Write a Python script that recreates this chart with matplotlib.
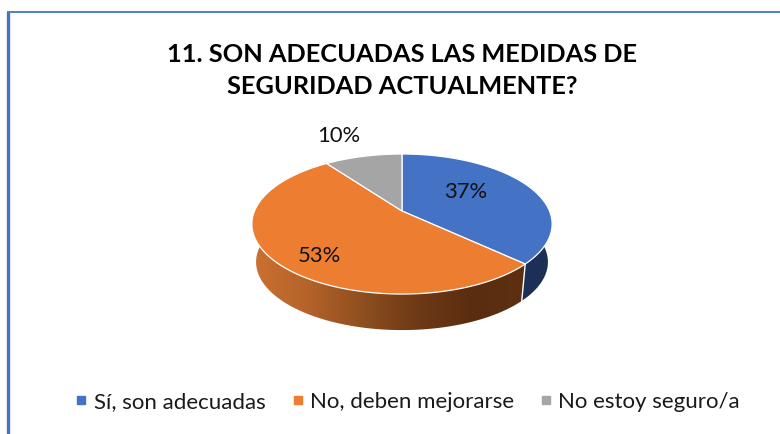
import numpy as np
import matplotlib
matplotlib.use("Agg")
import matplotlib.pyplot as plt
from matplotlib.patches import Polygon
from matplotlib.lines import Line2D
from matplotlib.colors import LinearSegmentedColormap

TITLE = "11. SON ADECUADAS LAS MEDIDAS DE\nSEGURIDAD ACTUALMENTE?"
categories = ["Sí, son adecuadas", "No, deben mejorarse", "No estoy seguro/a"]
values = [37, 53, 10]
labels = ["37%", "53%", "10%"]
colors = ["#4472C4", "#ED7D31", "#A5A5A5"]
side_colors = ["#1B2F57", None, None]

FONT = "Lato"
CX, CY, A, B, K = 402, 211, 147.5, 67.6, 0.186
DEPTH, SHRINK = 38, 0.972

fig = plt.figure(figsize=(7.8, 4.34), dpi=100, facecolor="white")
ax = fig.add_axes([0, 0, 1, 1])
ax.set_xlim(0, 780)
ax.set_ylim(434, 0)
ax.axis("off")


def rim(t, bottom=False):
    """Clockwise angle from 12 o'clock -> pixel position on the tilted disc."""
    x, y = np.sin(t), np.cos(t)
    d = 1 + K * y
    px, py = A * x / d, -B * y / d
    if bottom:
        return CX + px * SHRINK, CY + 13 + (py - 13) * SHRINK + DEPTH
    return CX + px, CY + py


fr = np.cumsum([0] + values) / sum(values) * 2 * np.pi

# side wall: clipped horizontal gradient for the orange, flat dark for the blue
t = np.linspace(max(fr[1], np.pi / 2), min(fr[2], 3 * np.pi / 2 + 0.1), 200)
tx, ty = rim(t)
bx, by = rim(t, True)
orange_side = Polygon(np.r_[np.c_[tx, ty], np.c_[bx, by][::-1]], closed=True,
                      transform=ax.transData, fc="none", ec="none")
ax.add_patch(orange_side)
cmap = LinearSegmentedColormap.from_list(
    "side", ["#CC7130", "#B5632A", "#8F4F1F", "#6F3A16", "#5A2D10", "#5E3011"])
im = ax.imshow(np.linspace(0, 1, 256)[None, :], cmap=cmap, aspect="auto",
               extent=(252, 526, 335, 220), zorder=1)
im.set_clip_path(orange_side)
ax.set_xlim(0, 780)
ax.set_ylim(434, 0)

t = np.linspace(np.pi / 2 * 0.9, fr[1], 60)
tx, ty = rim(t)
bx, by = rim(t, True)
ax.add_patch(Polygon(np.r_[np.c_[tx, ty], np.c_[bx, by][::-1]], closed=True,
                     fc=side_colors[0], ec="none", zorder=1.5))
ex, ey = rim(fr[1])
ebx, eby = rim(fr[1], True)
ax.plot([ex, ebx], [ey, eby], color="white", lw=1, zorder=1.6)

# top faces
for i, c in enumerate(colors):
    t = np.linspace(fr[i], fr[i + 1], 160)
    x, y = rim(t)
    pts = np.r_[[[CX, CY]], np.c_[x, y]]
    ax.add_patch(Polygon(pts, closed=True, fc=c, ec="white", lw=0.9,
                         joinstyle="round", zorder=2))

# data labels
label_xy = [(466, 192), (319, 256), (339, 136)]
for (lx, ly), s in zip(label_xy, labels):
    ax.text(lx, ly, s, ha="center", va="center", fontsize=15.8, family=FONT,
            color="#111111", zorder=3)

ax.text(402, 70.5, TITLE, ha="center", va="center", fontsize=18.3, family=FONT,
        fontweight="bold", color="black", linespacing=1.52)

# frame
ax.plot([8, 8], [12, 434], color="#4472C4", lw=2.4, solid_capstyle="butt")
ax.plot([7, 780], [12, 12], color="#4472C4", lw=1.3, solid_capstyle="butt")

handles = [Line2D([], [], ls="", marker="s", ms=5.5, mfc=c, mec=c) for c in colors]
ax.legend(handles, categories, ncol=3, frameon=False, loc="center",
          bbox_to_anchor=(408 / 780, 1 - 402 / 434),
          prop={"family": FONT, "size": 16}, labelcolor="#1a1a1a",
          handlelength=0.5, handletextpad=0.3, columnspacing=1.2)

fig.savefig("out.png", dpi=100, facecolor="white")
